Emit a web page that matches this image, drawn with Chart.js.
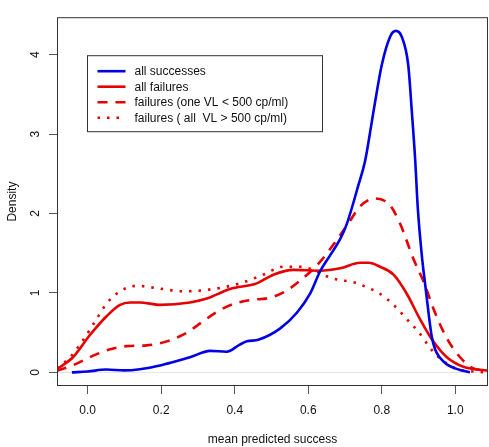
<!DOCTYPE html>
<html>
<head>
<meta charset="utf-8">
<script src="https://cdn.jsdelivr.net/npm/chart.js@4.4.1/dist/chart.umd.min.js"></script>
<style>
  html, body { margin: 0; padding: 0; background: #fff; }
  canvas { display: block; }
</style>
</head>
<body>
<canvas id="densityChart" width="489" height="447"></canvas>
<script>
// density estimates
const succX = [-0.043, 0.0, 0.05, 0.1, 0.142, 0.2, 0.233, 0.278, 0.333, 0.378, 0.414, 0.433, 0.464, 0.523, 0.569, 0.605, 0.632, 0.659, 0.687, 0.705, 0.736, 0.755, 0.777, 0.80, 0.823, 0.838, 0.854, 0.872, 0.882, 0.891, 0.898, 0.909, 0.918, 0.928, 0.936, 0.945, 0.959, 0.977, 1.0, 1.013, 1.04];
const succY = [0.0, 0.01, 0.035, 0.025, 0.04, 0.09, 0.13, 0.19, 0.27, 0.26, 0.35, 0.39, 0.41, 0.55, 0.75, 0.99, 1.27, 1.47, 1.68, 1.87, 2.35, 2.67, 3.27, 3.87, 4.23, 4.3, 4.23, 3.87, 3.27, 2.67, 2.07, 1.47, 1.11, 0.72, 0.45, 0.29, 0.18, 0.1, 0.05, 0.03, 0.0];

const failX = [-0.084, -0.04, 0.006, 0.052, 0.088, 0.115, 0.142, 0.197, 0.278, 0.324, 0.387, 0.46, 0.505, 0.56, 0.632, 0.687, 0.741, 0.765, 0.795, 0.832, 0.868, 0.904, 0.94, 0.977, 1.022, 1.09];
const failY = [0.04, 0.19, 0.47, 0.71, 0.85, 0.88, 0.88, 0.85, 0.88, 0.93, 1.05, 1.12, 1.23, 1.29, 1.28, 1.31, 1.38, 1.38, 1.33, 1.23, 0.99, 0.67, 0.39, 0.19, 0.07, 0.02];

const oneLowX = [-0.084, -0.04, 0.015, 0.061, 0.106, 0.16, 0.215, 0.27, 0.31, 0.351, 0.396, 0.442, 0.496, 0.541, 0.587, 0.632, 0.678, 0.714, 0.741, 0.782, 0.823, 0.85, 0.886, 0.913, 0.945, 0.977, 1.013, 1.049, 1.09];
const oneLowY = [0.02, 0.09, 0.21, 0.29, 0.33, 0.34, 0.39, 0.50, 0.63, 0.76, 0.86, 0.91, 0.94, 1.03, 1.19, 1.39, 1.67, 1.91, 2.09, 2.19, 2.1, 1.87, 1.43, 1.15, 0.75, 0.43, 0.19, 0.05, 0.02];

const allHighX = [-0.084, -0.048, -0.012, 0.024, 0.052, 0.088, 0.133, 0.188, 0.26, 0.342, 0.414, 0.478, 0.532, 0.578, 0.614, 0.65, 0.678, 0.727, 0.76, 0.795, 0.832, 0.868, 0.9, 0.931, 0.95, 1.0, 1.05, 1.09];
const allHighY = [0.05, 0.19, 0.41, 0.67, 0.87, 1.02, 1.09, 1.06, 1.02, 1.05, 1.12, 1.23, 1.33, 1.33, 1.29, 1.21, 1.17, 1.13, 1.07, 0.99, 0.85, 0.67, 0.51, 0.31, 0.21, 0.05, 0.01, 0.0];

const seriesLabels = ['all successes', 'all failures', 'failures (one VL < 500 cp/ml)', 'failures ( all  VL > 500 cp/ml)'];
const xTicks = [0.0, 0.2, 0.4, 0.6, 0.8, 1.0];
const yTicks = [0, 1, 2, 3, 4];

const BLUE = '#0000e6';
const RED = '#e60000';

const toPoints = (xs, ys) => xs.map((x, i) => ({ x: x, y: ys[i] }));

Chart.defaults.font.family = '"Liberation Sans", Arial, Helvetica, sans-serif';
Chart.defaults.font.size = 12;
Chart.defaults.color = '#111';

// R-style box round the plot region plus the legend box
const frameAndLegend = {
  id: 'frameAndLegend',
  afterDatasetsDraw(chart) {
    const { ctx, chartArea: a } = chart;
    ctx.save();
    ctx.strokeStyle = '#333';
    ctx.lineWidth = 1;
    ctx.setLineDash([]);
    ctx.strokeRect(a.left + 0.5, a.top + 0.5, a.right - a.left - 1, a.bottom - a.top - 1);

    const bx = a.left + 30.5, by = a.top + 38.5, bw = 235, bh = 76;
    ctx.fillStyle = '#fff';
    ctx.fillRect(bx, by, bw, bh);
    ctx.strokeStyle = '#333';
    ctx.strokeRect(bx, by, bw, bh);

    ctx.font = '12px "Liberation Sans", Arial, sans-serif';
    ctx.textBaseline = 'middle';
    chart.data.datasets.forEach((ds, i) => {
      const y = a.top + 54 + i * 15.5;
      ctx.beginPath();
      ctx.strokeStyle = ds.borderColor;
      ctx.lineWidth = ds.borderWidth;
      ctx.setLineDash(ds.borderDash || []);
      ctx.moveTo(bx + 10, y);
      ctx.lineTo(bx + 38, y);
      ctx.stroke();
      ctx.setLineDash([]);
      ctx.fillStyle = '#111';
      ctx.fillText(ds.label, bx + 47, y + 0.5);
    });
    ctx.restore();
  }
};

new Chart(document.getElementById('densityChart'), {
  type: 'line',
  data: {
    datasets: [
      { label: seriesLabels[0], data: toPoints(succX, succY), borderColor: BLUE, borderWidth: 2.6 },
      { label: seriesLabels[1], data: toPoints(failX, failY), borderColor: RED, borderWidth: 2.6 },
      { label: seriesLabels[2], data: toPoints(oneLowX, oneLowY), borderColor: RED, borderWidth: 2.6, borderDash: [10, 8] },
      { label: seriesLabels[3], data: toPoints(allHighX, allHighY), borderColor: RED, borderWidth: 2.6, borderDash: [2.5, 7] }
    ]
  },
  options: {
    responsive: false,
    animation: false,
    layout: { padding: { top: 1, right: 1, left: 0, bottom: 0 } },
    elements: {
      point: { radius: 0 },
      line: { cubicInterpolationMode: 'monotone', fill: false, borderCapStyle: 'butt' }
    },
    plugins: {
      legend: { display: false },
      tooltip: { enabled: false }
    },
    scales: {
      x: {
        type: 'linear',
        min: -0.0835,
        max: 1.089,
        afterBuildTicks: axis => { axis.ticks = xTicks.map(v => ({ value: v })); },
        afterFit: axis => { axis.height = 61; },
        border: { display: false },
        grid: { drawOnChartArea: false, drawTicks: true, tickLength: 8, tickColor: '#555' },
        ticks: { padding: 9, maxRotation: 0, autoSkip: false, callback: v => Number(v).toFixed(1) },
        title: { display: true, text: 'mean predicted success', padding: { top: 0, bottom: 0 } }
      },
      y: {
        type: 'linear',
        min: -0.172,
        max: 4.472,
        afterBuildTicks: axis => { axis.ticks = yTicks.map(v => ({ value: v })); },
        afterFit: axis => { axis.width = 57; },
        border: { display: false },
        grid: {
          drawOnChartArea: true,
          drawTicks: true,
          tickLength: 8,
          tickColor: '#555',
          color: c => (c.tick && c.tick.value === 0 ? '#e4e4e4' : 'rgba(0,0,0,0)')
        },
        ticks: { padding: 10, minRotation: 90, maxRotation: 90, crossAlign: 'center', autoSkip: false, callback: v => String(v) },
        title: { display: true, text: 'Density', padding: { top: 5, bottom: 0 } }
      }
    }
  },
  plugins: [frameAndLegend]
});
</script>
</body>
</html>
